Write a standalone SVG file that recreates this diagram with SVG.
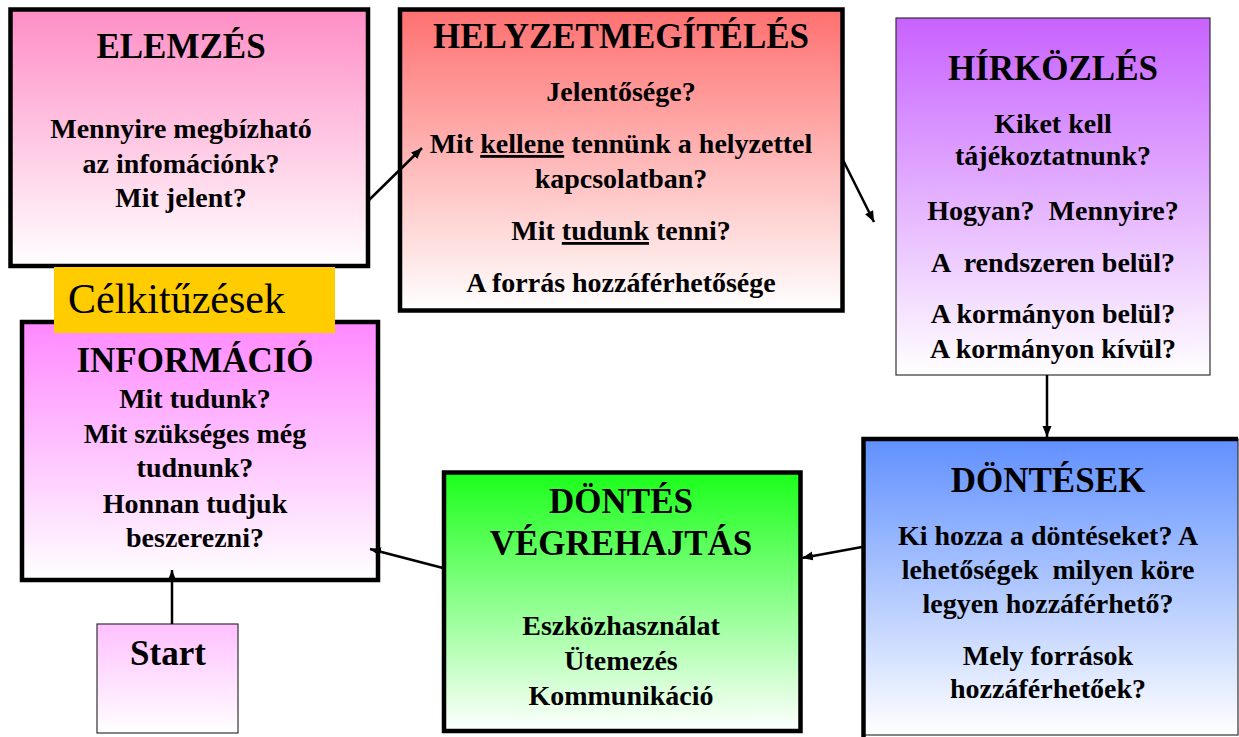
<svg xmlns="http://www.w3.org/2000/svg" width="1239" height="737" viewBox="0 0 1239 737">
<style>
.t{font-family:"Liberation Serif","Times New Roman",serif;font-weight:bold;font-size:35px;fill:#000;text-anchor:middle}
.b{font-family:"Liberation Serif","Times New Roman",serif;font-weight:bold;font-size:28px;fill:#000;text-anchor:middle;white-space:pre}
.thick{stroke:#000;stroke-width:4.5}
.thin{stroke:#333;stroke-width:1.2}
.c{stroke:#000;stroke-width:2.5;fill:none;marker-end:url(#ah)}
</style>
<defs>
<linearGradient id="gPink" x1="0" y1="0" x2="0" y2="1"><stop offset="0" stop-color="#ff8ec6"/><stop offset="1" stop-color="#ffffff"/></linearGradient>
<linearGradient id="gRed" x1="0" y1="0" x2="0" y2="1"><stop offset="0" stop-color="#ff7070"/><stop offset="1" stop-color="#ffffff"/></linearGradient>
<linearGradient id="gPurple" x1="0" y1="0" x2="0" y2="1"><stop offset="0" stop-color="#c862ff"/><stop offset="1" stop-color="#ffffff"/></linearGradient>
<linearGradient id="gMagenta" x1="0" y1="0" x2="0" y2="1"><stop offset="0" stop-color="#ff88ff"/><stop offset="1" stop-color="#ffffff"/></linearGradient>
<linearGradient id="gStart" x1="0" y1="0" x2="0" y2="1"><stop offset="0" stop-color="#ffc0ff"/><stop offset="1" stop-color="#ffffff"/></linearGradient>
<linearGradient id="gGreen" x1="0" y1="0" x2="0" y2="1"><stop offset="0" stop-color="#1aff1a"/><stop offset="1" stop-color="#ffffff"/></linearGradient>
<linearGradient id="gBlue" x1="0" y1="0" x2="0" y2="1"><stop offset="0" stop-color="#6090ff"/><stop offset="1" stop-color="#ffffff"/></linearGradient>
<marker id="ah" markerUnits="userSpaceOnUse" markerWidth="12" markerHeight="10" refX="11" refY="4.5" orient="auto"><path d="M0,0 L11,4.5 L0,9 z" fill="#000"/></marker>
</defs>

<g id="elemzes">
<rect x="10.5" y="9.5" width="357.5" height="256.5" fill="url(#gPink)" class="thick"/>
<text class="t" x="181" y="58">ELEMZÉS</text>
<text class="b" x="181" y="138">Mennyire megbízható</text>
<text class="b" x="181" y="173">az infomációnk?</text>
<text class="b" x="181" y="207">Mit jelent?</text>
</g>

<g id="helyzetmegiteles">
<rect x="400" y="9.5" width="442.5" height="301" fill="url(#gRed)" class="thick"/>
<text class="t" x="621" y="48">HELYZETMEGÍTÉLÉS</text>
<text class="b" x="621" y="101">Jelentősége?</text>
<text class="b" x="621" y="153">Mit <tspan text-decoration="underline">kellene</tspan> tennünk a helyzettel</text>
<text class="b" x="621" y="188">kapcsolatban?</text>
<text class="b" x="621" y="240">Mit <tspan text-decoration="underline">tudunk</tspan> tenni?</text>
<text class="b" x="621" y="292">A forrás hozzáférhetősége</text>
</g>

<g id="hirkozles">
<rect x="896" y="18" width="314" height="357" fill="url(#gPurple)" class="thin"/>
<text class="t" x="1053" y="80">HÍRKÖZLÉS</text>
<text class="b" x="1053" y="133">Kiket kell</text>
<text class="b" x="1053" y="165">tájékoztatnunk?</text>
<text class="b" x="1053" y="220">Hogyan?  Mennyire?</text>
<text class="b" x="1053" y="272">A  rendszeren belül?</text>
<text class="b" x="1053" y="323">A kormányon belül?</text>
<text class="b" x="1053" y="358">A kormányon kívül?</text>
</g>

<g id="informacio">
<rect x="22" y="322" width="356" height="258" fill="url(#gMagenta)" class="thick"/>
<text class="t" x="195" y="372">INFORMÁCIÓ</text>
<text class="b" x="195" y="408">Mit tudunk?</text>
<text class="b" x="195" y="443">Mit szükséges még</text>
<text class="b" x="195" y="477">tudnunk?</text>
<text class="b" x="195" y="513">Honnan tudjuk</text>
<text class="b" x="195" y="547">beszerezni?</text>
</g>

<g id="celkituzesek">
<rect x="54" y="267" width="281" height="66" fill="#ffcc00"/>
<text x="68" y="313" font-family="Liberation Serif, Times New Roman, serif" font-size="42" fill="#000">Célkitűzések</text>
</g>

<g id="start">
<rect x="97" y="624" width="141" height="109" fill="url(#gStart)" class="thin"/>
<text class="t" x="168" y="665">Start</text>
</g>

<g id="dontes-vegrehajtas">
<rect x="444" y="472.5" width="356.5" height="258.5" fill="url(#gGreen)" class="thick"/>
<text class="t" x="621" y="513">DÖNTÉS</text>
<text class="t" x="621" y="555">VÉGREHAJTÁS</text>
<text class="b" x="621" y="635">Eszközhasználat</text>
<text class="b" x="621" y="670">Ütemezés</text>
<text class="b" x="621" y="705">Kommunikáció</text>
</g>

<g id="dontesek">
<rect x="863.5" y="439" width="374.5" height="296" fill="url(#gBlue)" class="thin"/>
<path d="M863.5,737 L863.5,439 L1238,439" fill="none" class="thick"/>
<text class="t" x="1048" y="492">DÖNTÉSEK</text>
<text class="b" x="1048" y="545">Ki hozza a döntéseket? A</text>
<text class="b" x="1048" y="579">lehetőségek  milyen köre</text>
<text class="b" x="1048" y="613">legyen hozzáférhető?</text>
<text class="b" x="1048" y="665">Mely források</text>
<text class="b" x="1048" y="698">hozzáférhetőek?</text>
</g>

<g id="connectors">
<line class="c" x1="368" y1="201" x2="422" y2="148"/>
<line class="c" x1="843" y1="160" x2="874" y2="222"/>
<line class="c" x1="1047" y1="375" x2="1047" y2="437"/>
<line class="c" x1="862" y1="547" x2="802" y2="558"/>
<line class="c" x1="443" y1="568" x2="370" y2="549"/>
<line class="c" x1="172" y1="624" x2="172" y2="570"/>
</g>
</svg>
